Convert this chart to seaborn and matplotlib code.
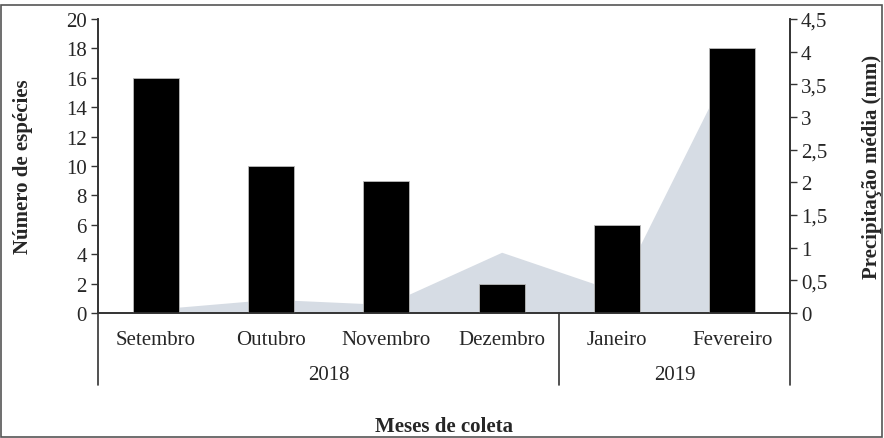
import matplotlib
matplotlib.use("Agg")
import matplotlib.pyplot as plt
import matplotlib.transforms as mtransforms
import seaborn as sns
import numpy as np
import pandas as pd

months = ["Setembro", "Outubro", "Novembro", "Dezembro", "Janeiro", "Fevereiro"]
years = ["2018", "2019"]
year_spans = [(0, 3), (4, 5)]
species = [16, 10, 9, 2, 6, 18]
precip = [0.06, 0.21, 0.13, 0.93, 0.33, 3.87]
left_ticks = list(range(0, 21, 2))
right_ticks = [0, 0.5, 1, 1.5, 2, 2.5, 3, 3.5, 4, 4.5]

sns.set_style("white")
plt.rcParams["font.family"] = ["Liberation Serif", "DejaVu Serif"]
FS = 15

fig = plt.figure(figsize=(8.84, 4.39), dpi=100)
ax = fig.add_axes([98/884, 1-314/439, (790-98)/884, (314-20)/439])
ax2 = ax.twinx()

df = pd.DataFrame({"mes": months, "especies": species})
xs = np.arange(len(months))
ax2.fill_between(xs, precip, 0, color="#D6DCE4", linewidth=0)
ax2.set_ylim(0, 4.5)
ax2.set_yticks(right_ticks)
ax2.set_yticklabels([("%g" % v).replace(".", ",") for v in right_ticks], fontsize=FS)

sns.barplot(data=df, x="mes", y="especies", color="black", width=0.4, ax=ax,
            saturation=1, edgecolor="#bbbbbb", linewidth=0.6)
ax.set_zorder(ax2.get_zorder() + 1)
ax.patch.set_visible(False)

ax.set_xlim(-0.5, 5.5)
ax.set_ylim(0, 20)
ax.set_yticks(left_ticks)
ax.set_yticklabels([str(v) for v in left_ticks], fontsize=FS)
ax.set_xticks(xs)
ax.set_xticklabels(months, fontsize=FS)
ax.set_xticks(np.arange(-0.5, 5.6, 1.0), minor=True)
ax.tick_params(axis="x", which="both", direction="out", length=4, width=1, color="#333333", pad=8)
ax.tick_params(axis="y", direction="out", length=5, width=1, color="#333333", left=True, pad=3)
ax2.tick_params(axis="y", direction="out", length=5, width=1, color="#333333", right=True, pad=3)
ax.set_xlabel("")
ax.set_ylabel("Número de espécies", fontsize=FS, fontweight="bold", labelpad=24)
ax2.set_ylabel("Precipitação média (mm)", fontsize=FS, fontweight="bold", labelpad=25)

for a in (ax, ax2):
    a.spines["top"].set_visible(False)
    for s in ["left", "right", "bottom"]:
        a.spines[s].set_color("#333333")
        a.spines[s].set_linewidth(1.2)

trans = mtransforms.blended_transform_factory(ax.transData, ax.transAxes)
sep_bottom = -(386-314)/294
for xv in [-0.5, 3.5, 5.5]:
    ax.plot([xv, xv], [0, sep_bottom], transform=trans, color="#333333", lw=1.2, clip_on=False)
for yr, (a0, a1) in zip(years, year_spans):
    ax.text((a0 + a1) / 2, -(376-314)/294, yr, transform=trans, ha="center", va="center", fontsize=FS)

fig.text((98+790)/2/884, 1-427/439, "Meses de coleta", ha="center", va="center", fontsize=FS, fontweight="bold")

border = plt.Rectangle((0.001, 0.003), 0.997, 1-6/439-0.003, transform=fig.transFigure,
                       fill=False, edgecolor="#555555", lw=1.2)
fig.patches.append(border)

fig.savefig("out.png", dpi=100)
